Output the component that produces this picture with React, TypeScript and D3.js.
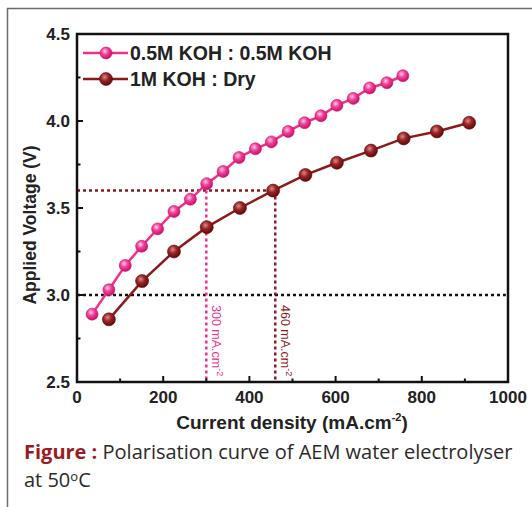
import React, { useEffect, useRef } from 'react';
import * as d3 from 'd3';

// values
const pinkCurrent = [35, 74, 112, 150, 187, 225, 263, 301, 339, 376, 414, 451, 490, 528, 566, 603, 641, 679, 719, 756];
const pinkVoltage = [2.89, 3.03, 3.17, 3.28, 3.38, 3.48, 3.55, 3.64, 3.71, 3.79, 3.84, 3.88, 3.94, 3.99, 4.03, 4.09, 4.13, 4.19, 4.22, 4.26];
const redCurrent = [74, 151, 225, 301, 378, 455, 530, 603, 682, 758, 835, 910];
const redVoltage = [2.86, 3.08, 3.25, 3.39, 3.5, 3.6, 3.69, 3.76, 3.83, 3.9, 3.94, 3.99];

const seriesNames = ['0.5M KOH : 0.5M KOH', '1M KOH : Dry'];
const xTicks = [0, 200, 400, 600, 800, 1000];
const xMinorTicks = [100, 300, 500, 700, 900];
const yTicks = [2.5, 3.0, 3.5, 4.0, 4.5];
const yMinorTicks = [2.75, 3.25, 3.75, 4.25];
const markerCurrents = [300, 460];
const markerVoltage = 3.6;
const baseVoltage = 3.0;

const App: React.FC = () => {
  const svgRef = useRef<SVGSVGElement>(null);

  useEffect(() => {
    const svg = d3.select(svgRef.current);
    svg.selectAll('*').remove();

    const W = 532;
    const H = 507;
    const left = 77, right = 508, top = 34, bottom = 382;
    const pink = '#f0308a';
    const red = '#8b1a1c';
    const axisFont = '"Liberation Sans", Arial, sans-serif';

    svg.attr('width', W).attr('height', H);

    const defs = svg.append('defs');
    const mkGrad = (id: string, c0: string, c1: string, c2: string) => {
      const g = defs.append('radialGradient').attr('id', id)
        .attr('cx', '40%').attr('cy', '35%').attr('r', '65%');
      g.append('stop').attr('offset', '0%').attr('stop-color', c0);
      g.append('stop').attr('offset', '45%').attr('stop-color', c1);
      g.append('stop').attr('offset', '100%').attr('stop-color', c2);
    };
    mkGrad('gPink', '#ffd0ea', '#f2409a', '#c81066');
    mkGrad('gRed', '#e08a8a', '#9a2626', '#5e0a0a');

    // outer figure border (top and left only)
    svg.append('path')
      .attr('d', `M7.5,${H} V8.5 H${W}`)
      .attr('fill', 'none').attr('stroke', '#6b6b6b').attr('stroke-width', 1.5);

    const x = d3.scaleLinear().domain([0, 1000]).range([left, right]);
    const y = d3.scaleLinear().domain([2.5, 4.5]).range([bottom, top]);

    const g = svg.append('g');

    // reference lines
    g.append('line')
      .attr('x1', x(0)).attr('x2', x(995))
      .attr('y1', y(baseVoltage)).attr('y2', y(baseVoltage))
      .attr('stroke', '#111').attr('stroke-width', 2.5).attr('stroke-dasharray', '3,3');
    g.append('line')
      .attr('x1', x(0)).attr('x2', x(markerCurrents[1]))
      .attr('y1', y(markerVoltage)).attr('y2', y(markerVoltage))
      .attr('stroke', red).attr('stroke-width', 2.5).attr('stroke-dasharray', '3,3');
    markerCurrents.forEach((c, i) => {
      const col = i === 0 ? pink : red;
      g.append('line')
        .attr('x1', x(c)).attr('x2', x(c))
        .attr('y1', y(markerVoltage)).attr('y2', y(2.5))
        .attr('stroke', col).attr('stroke-width', 2.5).attr('stroke-dasharray', '3,3');
      const t = g.append('text')
        .attr('transform', `translate(${x(c) + 6},${y(baseVoltage) + 10}) rotate(90)`)
        .attr('fill', col)
        .style('font-family', axisFont)
        .style('font-size', '12.5px')
        .text(`${c} mA.cm`);
      t.append('tspan').attr('dy', -5).style('font-size', '9px').text('-2');
    });

    // series
    const line = d3.line<[number, number]>().x(d => x(d[0])).y(d => y(d[1]));
    const series = [
      { xs: pinkCurrent, ys: pinkVoltage, color: pink, grad: 'url(#gPink)', stroke: '#c8106a', r: 6 },
      { xs: redCurrent, ys: redVoltage, color: red, grad: 'url(#gRed)', stroke: '#5a0a0a', r: 6.5 },
    ];
    series.forEach(s => {
      const pts: [number, number][] = s.xs.map((v, i) => [v, s.ys[i]]);
      g.append('path').attr('d', line(pts))
        .attr('fill', 'none').attr('stroke', s.color).attr('stroke-width', 2.5);
      g.selectAll(null).data(pts).enter().append('circle')
        .attr('cx', d => x(d[0])).attr('cy', d => y(d[1])).attr('r', s.r)
        .attr('fill', s.grad).attr('stroke', s.stroke).attr('stroke-width', 0.6);
    });

    // frame
    g.append('rect')
      .attr('x', left).attr('y', top).attr('width', right - left).attr('height', bottom - top)
      .attr('fill', 'none').attr('stroke', '#111').attr('stroke-width', 2.5);

    // ticks (inward)
    xTicks.forEach(t => {
      g.append('line').attr('x1', x(t)).attr('x2', x(t)).attr('y1', bottom).attr('y2', bottom - 6)
        .attr('stroke', '#111').attr('stroke-width', 2);
      g.append('text').attr('x', x(t)).attr('y', bottom + 21)
        .attr('text-anchor', 'middle').attr('fill', '#222')
        .style('font-family', axisFont).style('font-size', '17px').style('font-weight', 'bold')
        .text(String(t));
    });
    xMinorTicks.forEach(t => {
      g.append('line').attr('x1', x(t)).attr('x2', x(t)).attr('y1', bottom).attr('y2', bottom - 3.5)
        .attr('stroke', '#111').attr('stroke-width', 2);
    });
    yTicks.forEach(t => {
      g.append('line').attr('x1', left).attr('x2', left + 6).attr('y1', y(t)).attr('y2', y(t))
        .attr('stroke', '#111').attr('stroke-width', 2);
      g.append('text').attr('x', left - 7).attr('y', y(t) + 6)
        .attr('text-anchor', 'end').attr('fill', '#222')
        .style('font-family', axisFont).style('font-size', '17px').style('font-weight', 'bold')
        .text(t.toFixed(1));
    });
    yMinorTicks.forEach(t => {
      g.append('line').attr('x1', left).attr('x2', left + 3.5).attr('y1', y(t)).attr('y2', y(t))
        .attr('stroke', '#111').attr('stroke-width', 2);
    });

    // axis titles
    const xt = g.append('text').attr('x', 292).attr('y', 429)
      .attr('text-anchor', 'middle').attr('fill', '#222')
      .style('font-family', axisFont).style('font-size', '19px').style('font-weight', 'bold')
      .text('Current density (mA.cm');
    xt.append('tspan').attr('dy', -8).style('font-size', '11px').text('-2');
    xt.append('tspan').attr('dy', 8).text(')');

    g.append('text')
      .attr('transform', `translate(36,225) rotate(-90)`)
      .attr('text-anchor', 'middle').attr('fill', '#222')
      .style('font-family', axisFont).style('font-size', '17.5px').style('font-weight', 'bold')
      .text('Applied Voltage (V)');

    // legend
    series.forEach((s, i) => {
      const ly = 53 + i * 26;
      g.append('line').attr('x1', 83).attr('x2', 128).attr('y1', ly).attr('y2', ly)
        .attr('stroke', s.color).attr('stroke-width', 2.5);
      g.append('circle').attr('cx', 106).attr('cy', ly).attr('r', s.r)
        .attr('fill', s.grad).attr('stroke', s.stroke).attr('stroke-width', 0.6);
      g.append('text').attr('x', 130).attr('y', ly + 7)
        .attr('fill', '#222')
        .style('font-family', axisFont).style('font-size', '19.5px').style('font-weight', 'bold')
        .text(seriesNames[i]);
    });

    // caption
    const cap = svg.append('text').attr('x', 24).attr('y', 459)
      .style('font-family', '"Open Sans", sans-serif').style('font-size', '20px').attr('fill', '#2a2a2a');
    cap.append('tspan').attr('fill', '#9b1b22').style('font-weight', 'bold').text('Figure : ');
    cap.append('tspan').text('Polarisation curve of AEM water electrolyser');
    const cap2 = svg.append('text').attr('x', 24).attr('y', 487)
      .style('font-family', '"Open Sans", sans-serif').style('font-size', '20px').attr('fill', '#2a2a2a')
      .text('at 50');
    cap2.append('tspan').attr('dy', -6).style('font-size', '13px').text('o');
    cap2.append('tspan').attr('dy', 6).text('C');
  }, []);

  return (
    <svg ref={svgRef} style={{ position: 'absolute', left: 0, top: 0, background: '#fff' }}></svg>
  );
};

export default App;
